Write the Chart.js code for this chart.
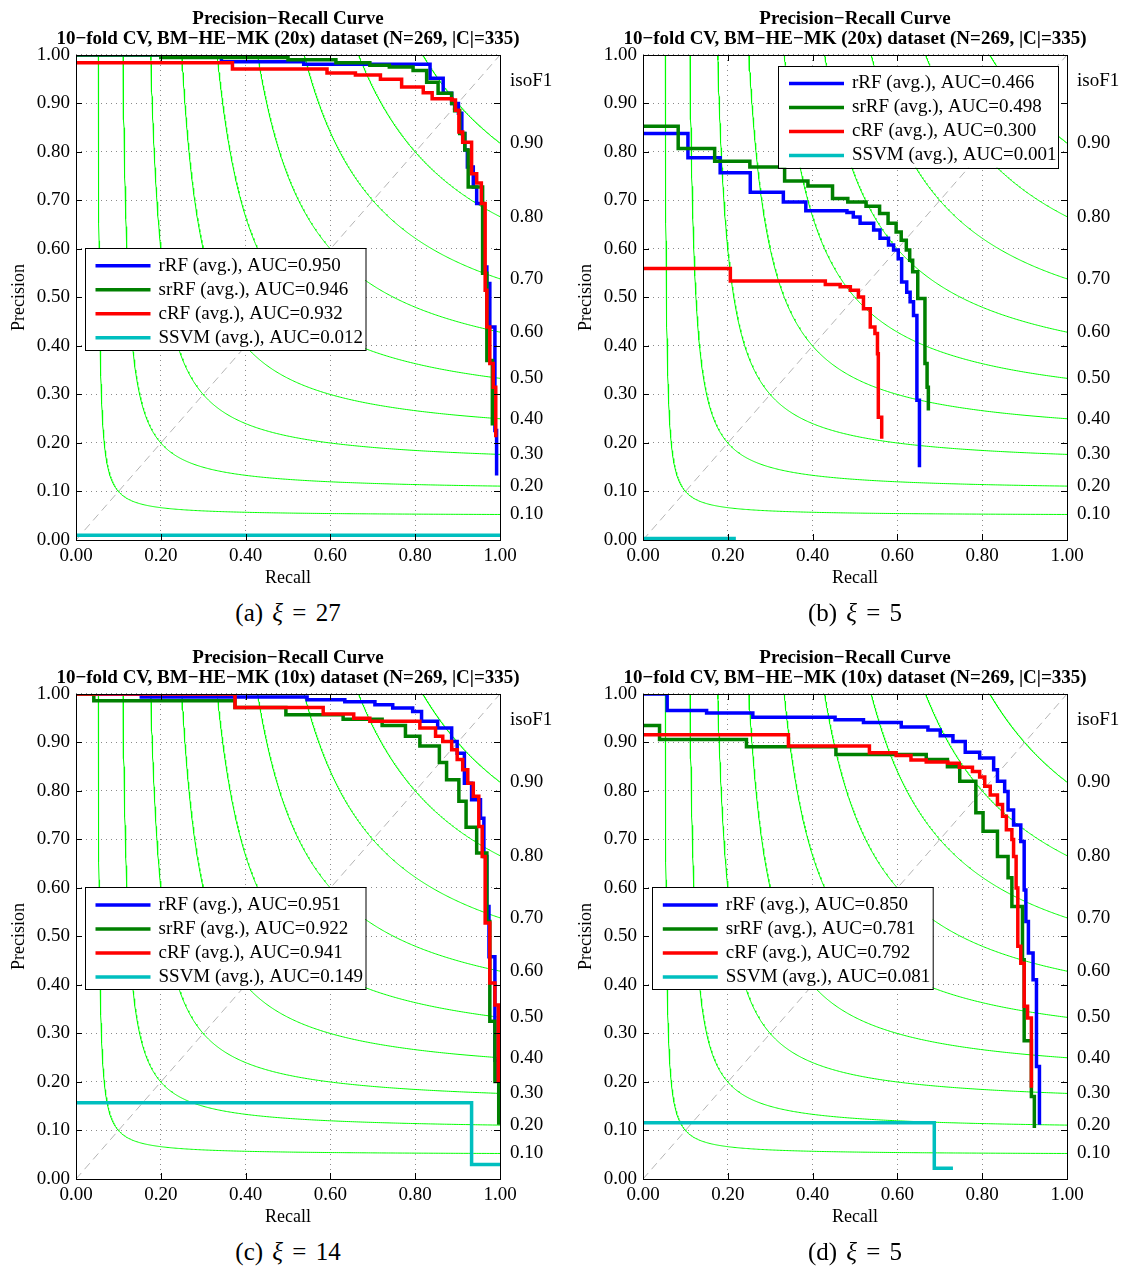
<!DOCTYPE html>
<html>
<head>
<meta charset="utf-8">
<script src="https://cdn.jsdelivr.net/npm/chart.js@4.4.1/dist/chart.umd.min.js"></script>
<style>
  body { margin: 0; background: #fff; }
  #fig { position: relative; width: 1121px; height: 1268px; overflow: hidden; }
  canvas { position: absolute; }
  .cap { position: absolute; width: 424px; text-align: center; font: 25px "Liberation Serif", serif; line-height: 28px; word-spacing: 3px; }
</style>
</head>
<body>
<div id="fig">
  <canvas id="pa" width="576" height="596" style="left:0;top:0"></canvas>
  <canvas id="pb" width="576" height="596" style="left:567px;top:0"></canvas>
  <canvas id="pc" width="576" height="596" style="left:0;top:639px"></canvas>
  <canvas id="pd" width="576" height="596" style="left:567px;top:639px"></canvas>
  <div class="cap" style="left:76px;top:599px">(a) <i>ξ</i> = 27</div>
  <div class="cap" style="left:643px;top:599px">(b) <i>ξ</i> = 5</div>
  <div class="cap" style="left:76px;top:1238px">(c) <i>ξ</i> = 14</div>
  <div class="cap" style="left:643px;top:1238px">(d) <i>ξ</i> = 5</div>
</div>
<script>
// ticks and iso-F1 levels
const xTicks = [0, 0.2, 0.4, 0.6, 0.8, 1];
const yTicks = [0, 0.1, 0.2, 0.3, 0.4, 0.5, 0.6, 0.7, 0.8, 0.9, 1];
const isoLevels = [0.1, 0.2, 0.3, 0.4, 0.5, 0.6, 0.7, 0.8, 0.9];
const isoHeadPos = 0.947; // where the "isoF1" heading sits on the right axis

const seriesNames = ["rRF (avg.)", "srRF (avg.)", "cRF (avg.)", "SSVM (avg.)"];

// (a) 20x, xi = 27   -- [recall, precision] at each step
const aucA = ["0.950", "0.946", "0.932", "0.012"];
const aRRF = [[0, 1.0], [0.21, 0.997], [0.343, 0.986], [0.537, 0.981], [0.835, 0.952], [0.866, 0.921], [0.886, 0.9], [0.902, 0.88], [0.91, 0.838], [0.917, 0.804], [0.923, 0.769], [0.937, 0.728], [0.945, 0.694], [0.961, 0.563], [0.969, 0.529], [0.976, 0.439], [0.988, 0.226], [0.992, 0.133]];
const aSRRF = [[0, 1.0], [0.2, 0.995], [0.5, 0.99], [0.613, 0.984], [0.693, 0.979], [0.739, 0.975], [0.795, 0.968], [0.827, 0.944], [0.854, 0.921], [0.886, 0.9], [0.893, 0.885], [0.905, 0.838], [0.917, 0.804], [0.925, 0.728], [0.959, 0.55], [0.969, 0.37], [0.982, 0.236]];
const aCRF = [[0, 0.984], [0.369, 0.971], [0.592, 0.963], [0.659, 0.959], [0.718, 0.95], [0.768, 0.934], [0.819, 0.922], [0.84, 0.91], [0.886, 0.907], [0.895, 0.886], [0.903, 0.841], [0.912, 0.82], [0.933, 0.755], [0.945, 0.736], [0.956, 0.694], [0.965, 0.515], [0.969, 0.439], [0.976, 0.364], [0.984, 0.315], [0.99, 0.212]];
const aSSVM = [[0, 0.01], [1, 0.01]];

// (b) 20x, xi = 5
const aucB = ["0.466", "0.498", "0.300", "0.001"];
const bRRF = [[0, 0.838], [0.106, 0.788], [0.182, 0.757], [0.253, 0.717], [0.331, 0.697], [0.384, 0.679], [0.481, 0.675], [0.496, 0.666], [0.512, 0.653], [0.544, 0.639], [0.559, 0.622], [0.579, 0.608], [0.591, 0.598], [0.602, 0.58], [0.61, 0.532], [0.622, 0.511], [0.63, 0.491], [0.638, 0.463], [0.646, 0.288], [0.652, 0.15]];
const bSRRF = [[0, 0.853], [0.083, 0.807], [0.169, 0.781], [0.252, 0.769], [0.334, 0.74], [0.389, 0.73], [0.447, 0.704], [0.483, 0.697], [0.526, 0.688], [0.558, 0.673], [0.578, 0.653], [0.597, 0.635], [0.609, 0.618], [0.621, 0.598], [0.629, 0.577], [0.636, 0.553], [0.648, 0.498], [0.665, 0.364], [0.67, 0.315], [0.673, 0.267]];
const bCRF = [[0, 0.56], [0.206, 0.534], [0.43, 0.527], [0.465, 0.522], [0.489, 0.515], [0.508, 0.501], [0.52, 0.477], [0.536, 0.439], [0.547, 0.426], [0.553, 0.384], [0.555, 0.253], [0.563, 0.209]];
const bSSVM = [[0, 0.003], [0.219, 0.003]];

// (c) 10x, xi = 14
const aucC = ["0.951", "0.922", "0.941", "0.149"];
const cRRF = [[0, 1.0], [0.154, 0.994], [0.545, 0.988], [0.634, 0.984], [0.705, 0.978], [0.747, 0.971], [0.794, 0.964], [0.815, 0.944], [0.853, 0.93], [0.886, 0.902], [0.899, 0.878], [0.916, 0.816], [0.933, 0.782], [0.954, 0.744], [0.962, 0.665], [0.969, 0.562], [0.974, 0.458], [0.988, 0.245], [0.995, 0.2]];
const cSRRF = [[0, 1.0], [0.042, 0.986], [0.375, 0.972], [0.495, 0.957], [0.63, 0.948], [0.722, 0.935], [0.777, 0.913], [0.811, 0.893], [0.857, 0.859], [0.874, 0.823], [0.903, 0.779], [0.92, 0.725], [0.945, 0.672], [0.969, 0.531], [0.976, 0.325], [0.988, 0.201], [0.997, 0.112]];
const cCRF = [[0, 1.0], [0.375, 0.972], [0.583, 0.959], [0.655, 0.95], [0.693, 0.944], [0.811, 0.93], [0.848, 0.913], [0.865, 0.902], [0.886, 0.885], [0.899, 0.865], [0.912, 0.844], [0.924, 0.816], [0.937, 0.789], [0.95, 0.727], [0.958, 0.665], [0.965, 0.528], [0.976, 0.404], [0.988, 0.359], [0.996, 0.2]];
const cSSVM = [[0, 0.157], [0.933, 0.03], [1, 0.03]];

// (d) 10x, xi = 5
const aucD = ["0.850", "0.781", "0.792", "0.081"];
const dRRF = [[0, 1.0], [0.057, 0.966], [0.15, 0.961], [0.259, 0.952], [0.453, 0.947], [0.52, 0.941], [0.609, 0.932], [0.672, 0.926], [0.701, 0.914], [0.731, 0.902], [0.76, 0.88], [0.794, 0.868], [0.827, 0.844], [0.836, 0.82], [0.853, 0.799], [0.861, 0.761], [0.874, 0.73], [0.891, 0.696], [0.899, 0.596], [0.903, 0.531], [0.909, 0.466], [0.92, 0.411], [0.928, 0.232], [0.935, 0.112]];
const dSRRF = [[0, 0.935], [0.039, 0.906], [0.244, 0.891], [0.455, 0.875], [0.668, 0.865], [0.718, 0.85], [0.747, 0.82], [0.785, 0.755], [0.802, 0.717], [0.836, 0.665], [0.861, 0.621], [0.87, 0.562], [0.895, 0.452], [0.899, 0.285], [0.916, 0.17], [0.923, 0.105]];
const dCRF = [[0, 0.916], [0.343, 0.893], [0.534, 0.879], [0.597, 0.873], [0.632, 0.864], [0.668, 0.86], [0.719, 0.857], [0.746, 0.849], [0.777, 0.84], [0.794, 0.829], [0.806, 0.81], [0.819, 0.792], [0.836, 0.772], [0.848, 0.748], [0.857, 0.72], [0.87, 0.7], [0.874, 0.665], [0.88, 0.6], [0.884, 0.48], [0.891, 0.445], [0.899, 0.356], [0.907, 0.332], [0.916, 0.188]];
const dSSVM = [[0, 0.116], [0.687, 0.022], [0.731, 0.022]];

const FONT = '"Liberation Serif", "Times New Roman", serif';
Chart.defaults.font.family = FONT;
Chart.defaults.color = "#000";

const COLORS = ["#0000ff", "#008000", "#ff0000", "#00bfbf"];

// iso-F1 contour: p = f*r / (2r - f), from p = 1 down to r = 1
function isoCurve(f) {
  const r0 = f / (2 - f);
  const pts = [];
  for (let i = 0; i <= 300; i++) {
    const t = i / 300;
    const r = r0 + (1 - r0) * t * t;
    pts.push({ x: r, y: (f * r) / (2 * r - f) });
  }
  return pts;
}

const rightPos = isoLevels.map((f) => f / (2 - f)).concat([isoHeadPos]);
const rightLabels = isoLevels.map((f) => f.toFixed(2)).concat(["isoF1"]);

// box round the plot + inward tick marks
const frame = {
  id: "frame",
  afterDatasetsDraw(chart) {
    const { ctx, chartArea: a, scales } = chart;
    const L = 6;
    ctx.save();
    ctx.strokeStyle = "#000";
    ctx.lineWidth = 1;
    ctx.beginPath();
    xTicks.forEach((v) => {
      const px = Math.round(scales.x.getPixelForValue(v)) + 0.5;
      ctx.moveTo(px, a.bottom); ctx.lineTo(px, a.bottom - L);
      ctx.moveTo(px, a.top); ctx.lineTo(px, a.top + L);
    });
    yTicks.forEach((v) => {
      const py = Math.round(scales.y.getPixelForValue(v)) + 0.5;
      ctx.moveTo(a.left, py); ctx.lineTo(a.left + L, py);
      ctx.moveTo(a.right, py); ctx.lineTo(a.right - L, py);
    });
    ctx.stroke();
    ctx.strokeRect(Math.round(a.left) + 0.5, Math.round(a.top) + 0.5, Math.round(a.width), Math.round(a.height));
    ctx.restore();
  },
};

// matlab-like boxed legend inside the axes
const boxLegend = {
  id: "boxLegend",
  afterDraw(chart, args, opts) {
    const { ctx } = chart;
    const items = chart.data.datasets.filter((d) => d.inLegend);
    const h = items.length * 24 + 6;
    ctx.save();
    ctx.fillStyle = "#fff";
    ctx.fillRect(opts.x, opts.y, opts.w, h);
    ctx.strokeStyle = "#000";
    ctx.lineWidth = 1;
    ctx.strokeRect(Math.round(opts.x) + 0.5, Math.round(opts.y) + 0.5, opts.w, h);
    ctx.font = "19px " + FONT;
    ctx.textBaseline = "middle";
    items.forEach((d, i) => {
      const cy = opts.y + 17.7 + 24 * i;
      ctx.strokeStyle = d.borderColor;
      ctx.lineWidth = 3.5;
      ctx.beginPath();
      ctx.moveTo(opts.x + 11, cy);
      ctx.lineTo(opts.x + 66, cy);
      ctx.stroke();
      ctx.fillStyle = "#000";
      ctx.fillText(d.label, opts.x + 74, cy);
    });
    ctx.restore();
  },
};

function curve(pairs, i, auc) {
  return {
    label: seriesNames[i] + ", AUC=" + auc,
    data: pairs.map(([x, y]) => ({ x, y })),
    borderColor: COLORS[i],
    borderWidth: 3.5,
    stepped: true,
    showLine: true,
    pointRadius: 0,
    order: 4 - i,
    inLegend: true,
  };
}

function makePanel(id, mag, series, auc, legendPos) {
  const datasets = [];
  series.forEach((s, i) => datasets.push(curve(s, i, auc[i])));
  datasets.push({
    data: [{ x: 0, y: 0 }, { x: 1, y: 1 }],
    borderColor: "#b4b4b4",
    borderWidth: 1,
    borderDash: [8, 5],
    showLine: true,
    pointRadius: 0,
    order: 5,
  });
  isoLevels.forEach((f) =>
    datasets.push({
      data: isoCurve(f),
      borderColor: "#00ff00",
      borderWidth: 1,
      showLine: true,
      pointRadius: 0,
      order: 6,
    })
  );

  const tickFont = { family: FONT, size: 19 };
  new Chart(document.getElementById(id).getContext("2d"), {
    type: "scatter",
    data: { datasets },
    options: {
      responsive: false,
      animation: false,
      layout: { padding: 0 },
      plugins: {
        legend: { display: false },
        tooltip: { enabled: false },
        title: {
          display: true,
          text: ["Precision\u2212Recall Curve", "10\u2212fold CV, BM\u2212HE\u2212MK (" + mag + ") dataset (N=269, |C|=335)"],
          color: "#000",
          font: { family: FONT, size: 19, weight: "bold", lineHeight: 1.0526 },
          padding: { top: 9, bottom: 6 },
        },
        boxLegend: legendPos,
      },
      scales: {
        x: {
          type: "linear",
          min: 0,
          max: 1,
          afterBuildTicks: (s) => { s.ticks = xTicks.map((v) => ({ value: v })); },
          afterFit: (s) => { s.height = 56; },
          grid: { color: "#8a8a8a", drawTicks: false },
          border: { display: false, dash: [1, 4] },
          ticks: { autoSkip: false, maxRotation: 0, padding: 5, font: tickFont, color: "#000", callback: (v) => v.toFixed(2) },
          title: { display: true, text: "Recall", color: "#000", font: { family: FONT, size: 18 }, padding: { top: 0, bottom: 7 } },
        },
        y: {
          type: "linear",
          min: 0,
          max: 1,
          afterBuildTicks: (s) => { s.ticks = yTicks.map((v) => ({ value: v })); },
          afterFit: (s) => { s.width = 76; },
          grid: { color: "#8a8a8a", drawTicks: false },
          border: { display: false, dash: [1, 4] },
          ticks: { autoSkip: false, padding: 6, font: tickFont, color: "#000", callback: (v) => v.toFixed(2) },
          title: { display: true, text: "Precision", color: "#000", font: { family: FONT, size: 18 }, padding: { top: 8, bottom: 0 } },
        },
        iso: {
          type: "linear",
          position: "right",
          min: 0,
          max: 1,
          afterBuildTicks: (s) => { s.ticks = rightPos.map((v) => ({ value: v })); },
          afterFit: (s) => { s.width = 76; },
          grid: { display: false, drawTicks: false },
          border: { display: false },
          ticks: { autoSkip: false, padding: 10, font: tickFont, color: "#000", callback: (v, i) => rightLabels[i] },
        },
      },
    },
    plugins: [frame, boxLegend],
  });
}

makePanel("pa", "20x", [aRRF, aSRRF, aCRF, aSSVM], aucA, { x: 84.5, y: 248, w: 280.5 });
makePanel("pb", "20x", [bRRF, bSRRF, bCRF, bSSVM], aucB, { x: 211, y: 65.7, w: 280 });
makePanel("pc", "10x", [cRRF, cSRRF, cCRF, cSSVM], aucC, { x: 84.5, y: 248.3, w: 280.5 });
makePanel("pd", "10x", [dRRF, dSRRF, dCRF, dSSVM], aucD, { x: 84.8, y: 248.3, w: 280.7 });
</script>
</body>
</html>
